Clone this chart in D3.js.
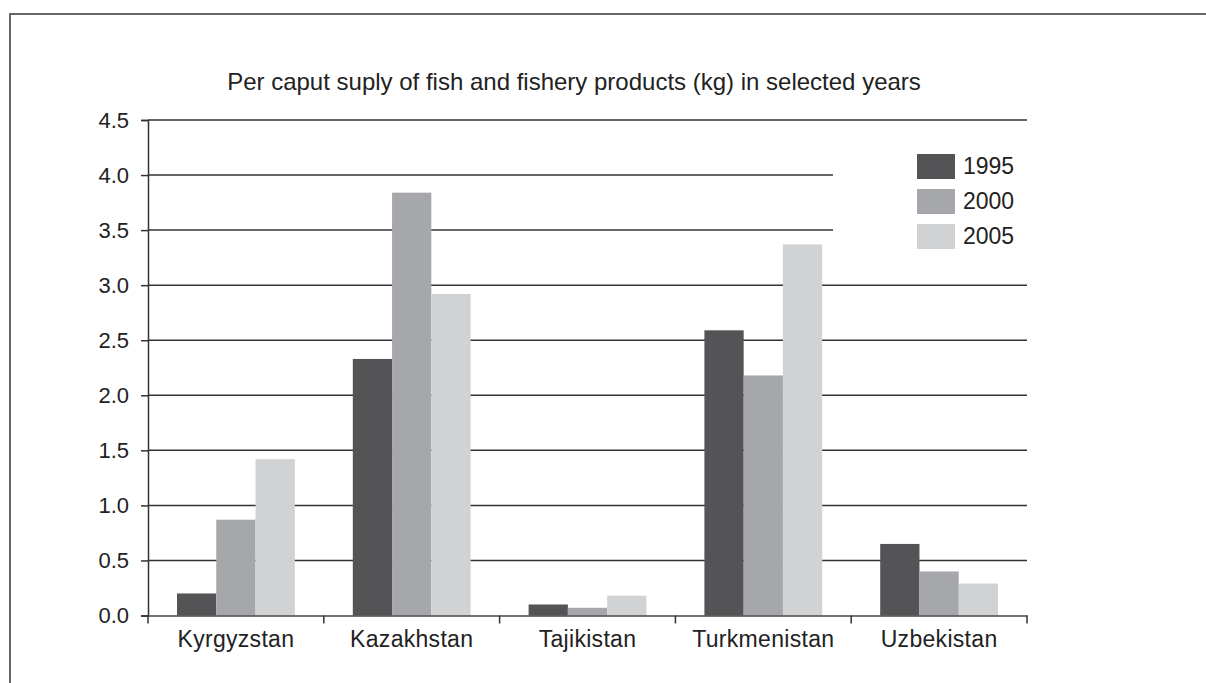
<!DOCTYPE html>
<html>
<head>
<script src="https://d3js.org/d3.v7.min.js"></script>
<style>
  body { margin: 0; background: #fff; }
  text { font-family: Arial, "Liberation Sans", sans-serif; fill: #222; }
</style>
</head>
<body>
<div id="chart"></div>
<script>
const countries = ["Kyrgyzstan", "Kazakhstan", "Tajikistan", "Turkmenistan", "Uzbekistan"];
const years = ["1995", "2000", "2005"];
const v1995 = [0.20, 2.33, 0.10, 2.59, 0.65];
const v2000 = [0.87, 3.84, 0.07, 2.18, 0.40];
const v2005 = [1.42, 2.92, 0.18, 3.37, 0.29];
const yTicks = [0, 0.5, 1, 1.5, 2, 2.5, 3, 3.5, 4, 4.5];
const title = "Per caput suply of fish and fishery products (kg) in selected years";

const series = [v1995, v2000, v2005];
const colors = ["#545457", "#a6a7aa", "#d1d2d4"];

const W = 1206, H = 683;
const svg = d3.select('#chart').append('svg')
    .attr('width', W)
    .attr('height', H);

// outer frame
svg.append('rect')
    .attr('x', 10).attr('y', 14)
    .attr('width', W + 20).attr('height', H + 20)
    .attr('fill', 'none')
    .attr('stroke', '#666')
    .attr('stroke-width', 2);

const plotLeft = 148, plotRight = 1027, plotTop = 120, plotBottom = 615.5;

const x0 = d3.scaleBand().domain(countries).range([plotLeft, plotRight]).padding(0);
const x1 = d3.scaleBand().domain(years).range([29, x0.bandwidth() - 29]).padding(0);
const y = d3.scaleLinear().domain([0, 4.5]).range([plotBottom, plotTop]);

// gridlines
svg.append('g')
    .selectAll('line')
    .data(yTicks.filter(d => d > 0))
    .enter().append('line')
        .attr('x1', plotLeft).attr('x2', plotRight)
        .attr('y1', d => y(d)).attr('y2', d => y(d))
        .attr('stroke', '#333')
        .attr('stroke-width', 1.5);

// bars
const groups = svg.append('g')
    .selectAll('g')
    .data(countries)
    .enter().append('g')
        .attr('transform', d => `translate(${x0(d)},0)`);

groups.selectAll('rect')
    .data((c, i) => years.map((yr, k) => ({ yr: yr, k: k, v: series[k][i] })))
    .enter().append('rect')
        .attr('x', d => x1(d.yr))
        .attr('width', x1.bandwidth())
        .attr('y', d => y(d.v))
        .attr('height', d => y(0) - y(d.v))
        .attr('fill', d => colors[d.k]);

// y axis
const yAxis = d3.axisLeft(y)
    .tickValues(yTicks)
    .tickFormat(d3.format('.1f'))
    .tickSize(7)
    .tickPadding(12);
const gy = svg.append('g')
    .attr('transform', `translate(${plotLeft},0)`)
    .call(yAxis);
gy.select('.domain').attr('stroke', '#333').attr('stroke-width', 1.5);
gy.selectAll('.tick line').attr('stroke', '#333').attr('stroke-width', 1.5);
gy.selectAll('.tick text')
    .style('font-size', '22px')
    .attr('fill', '#222');

// x axis
const xAxis = d3.axisBottom(x0).tickSize(0).tickPadding(15);
const gx = svg.append('g')
    .attr('transform', `translate(0,${plotBottom})`)
    .call(xAxis);
gx.select('.domain').attr('stroke', '#444').attr('stroke-width', 1.5);
gx.selectAll('.tick text')
    .style('font-size', '23px')
    .style('letter-spacing', '0.3px')
    .attr('fill', '#222');
gx.selectAll('.sep')
    .data(countries.map(c => x0(c)).concat([plotRight]))
    .enter().append('line')
        .attr('class', 'sep')
        .attr('x1', d => d).attr('x2', d => d)
        .attr('y1', 0).attr('y2', 8)
        .attr('stroke', '#333')
        .attr('stroke-width', 1.5);

// title
svg.append('text')
    .attr('x', 574).attr('y', 90)
    .attr('text-anchor', 'middle')
    .style('font-size', '24px')
    .text(title);

// legend
svg.append('rect')
    .attr('x', 833).attr('y', 140)
    .attr('width', 194).attr('height', 125)
    .attr('fill', '#fff');
const legend = svg.append('g')
    .selectAll('g')
    .data(years)
    .enter().append('g')
        .attr('transform', (d, i) => `translate(917,${154 + i * 35})`);
legend.append('rect')
    .attr('width', 38).attr('height', 25)
    .attr('fill', (d, i) => colors[i]);
legend.append('text')
    .attr('x', 46).attr('y', 20)
    .style('font-size', '23px')
    .text(d => d);
</script>
</body>
</html>
